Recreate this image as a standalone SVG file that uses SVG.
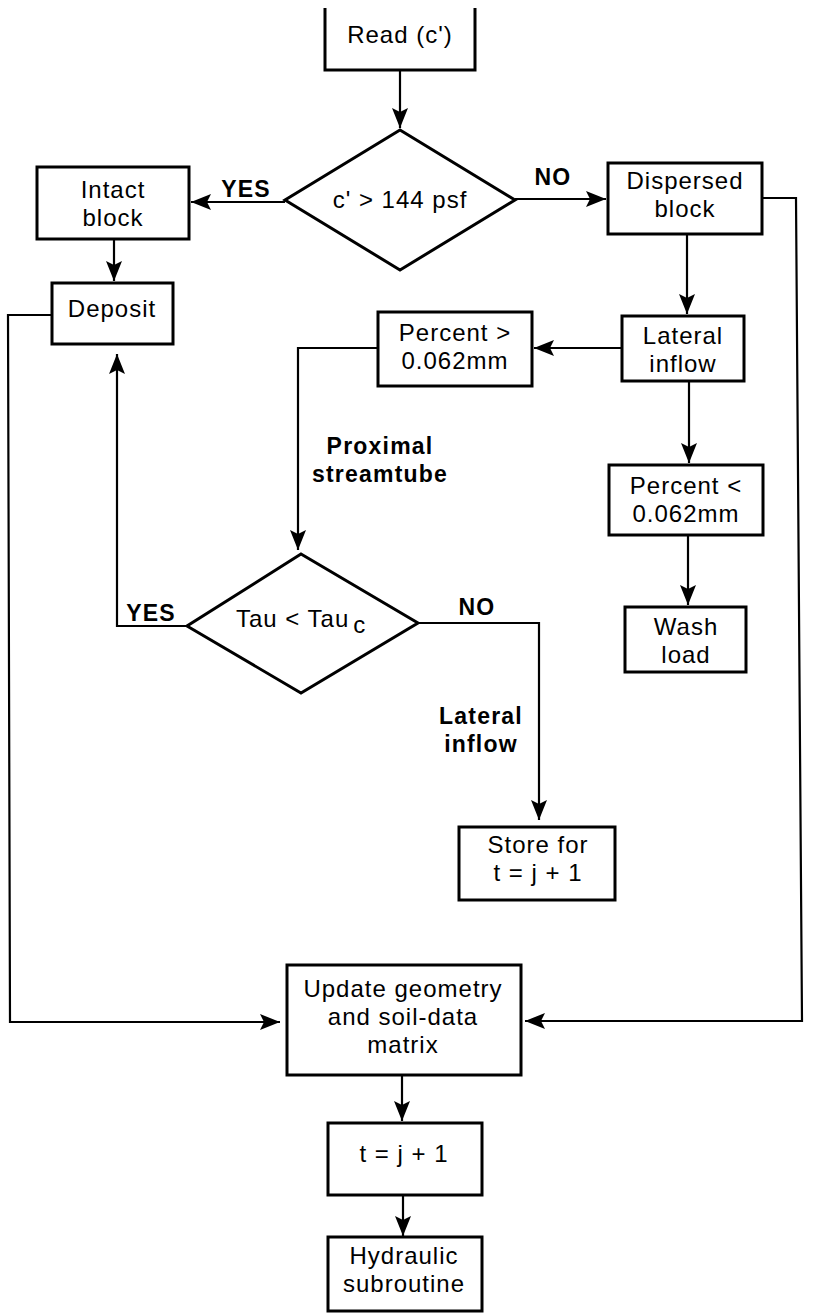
<svg xmlns="http://www.w3.org/2000/svg" width="816" height="1313" viewBox="0 0 816 1313">
<defs>
<style>
.box{fill:#fff;stroke:#000;stroke-width:3}
.ln{fill:none;stroke:#000;stroke-width:2.2}
.t{font-family:"Liberation Sans",Arial,sans-serif;font-size:24px;letter-spacing:1px;text-anchor:middle;fill:#000}
.b{font-family:"Liberation Sans",Arial,sans-serif;font-size:23px;font-weight:bold;letter-spacing:1.2px;text-anchor:middle;fill:#000}
</style>
<marker id="ah" markerUnits="userSpaceOnUse" markerWidth="22" markerHeight="18" viewBox="-21 -9 22 18" refX="0" refY="0" orient="auto">
<path d="M0,0 L-20,-8 L-16,0 L-20,8 Z" fill="#000"/>
</marker>
</defs>
<rect width="816" height="1313" fill="#fff"/>

<g id="connectors">
<path class="ln" d="M400,70 V128" marker-end="url(#ah)"/>
<path class="ln" d="M285,202 H191" marker-end="url(#ah)"/>
<path class="ln" d="M515,199 H606" marker-end="url(#ah)"/>
<path class="ln" d="M114,239 V281" marker-end="url(#ah)"/>
<path class="ln" d="M687,234 V314" marker-end="url(#ah)"/>
<path class="ln" d="M622,348 H534" marker-end="url(#ah)"/>
<path class="ln" d="M689,381 V463" marker-end="url(#ah)"/>
<path class="ln" d="M688,535 V605" marker-end="url(#ah)"/>
<path class="ln" d="M378,348 H298 V550" marker-end="url(#ah)"/>
<path class="ln" d="M187,626 H117 V354" marker-end="url(#ah)"/>
<path class="ln" d="M418,623 H539 V820" marker-end="url(#ah)"/>
<path class="ln" d="M52,315 H8 L10,1022 H280" marker-end="url(#ah)"/>
<path class="ln" d="M762,198 H796 L802,1021 H525" marker-end="url(#ah)"/>
<path class="ln" d="M402,1075 V1121" marker-end="url(#ah)"/>
<path class="ln" d="M403,1195 V1236" marker-end="url(#ah)"/>
<text class="b" x="246" y="197">YES</text>
<text class="b" x="553" y="185">NO</text>
<text class="b" x="151" y="621">YES</text>
<text class="b" x="477" y="615">NO</text>
<text class="b" x="380" y="454">Proximal</text>
<text class="b" x="380" y="482">streamtube</text>
<text class="b" x="481" y="724">Lateral</text>
<text class="b" x="481" y="752">inflow</text>
</g>

<g id="read">
<path class="box" d="M325,8 V70 H475 V8" fill="none"/>
<text class="t" x="400" y="43">Read (c')</text>
</g>

<g id="decision1">
<polygon class="box" points="400,130 515,200 400,270 285,200"/>
<text class="t" x="400" y="208">c' &gt; 144 psf</text>
</g>

<g id="intact">
<rect class="box" x="37" y="167" width="152" height="72"/>
<text class="t" x="113" y="198">Intact</text>
<text class="t" x="113" y="226">block</text>
</g>

<g id="dispersed">
<rect class="box" x="608" y="163" width="154" height="71"/>
<text class="t" x="685" y="189">Dispersed</text>
<text class="t" x="685" y="217">block</text>
</g>

<g id="deposit">
<rect class="box" x="52" y="283" width="121" height="61"/>
<text class="t" x="112" y="317">Deposit</text>
</g>

<g id="lateral">
<rect class="box" x="622" y="316" width="122" height="65"/>
<text class="t" x="683" y="344">Lateral</text>
<text class="t" x="683" y="372">inflow</text>
</g>

<g id="percentGT">
<rect class="box" x="378" y="312" width="154" height="74"/>
<text class="t" x="455" y="341">Percent &gt;</text>
<text class="t" x="455" y="369">0.062mm</text>
</g>

<g id="percentLT">
<rect class="box" x="609" y="465" width="154" height="70"/>
<text class="t" x="686" y="494">Percent &lt;</text>
<text class="t" x="686" y="522">0.062mm</text>
</g>

<g id="washload">
<rect class="box" x="625" y="607" width="121" height="65"/>
<text class="t" x="686" y="635">Wash</text>
<text class="t" x="686" y="663">load</text>
</g>

<g id="decision2">
<polygon class="box" points="301,554 418,623 301,693 187,626"/>
<text class="t" x="236" y="627" style="text-anchor:start">Tau &lt; Tau<tspan dx="4" dy="6">c</tspan></text>
</g>

<g id="store">
<rect class="box" x="459" y="827" width="156" height="73"/>
<text class="t" x="538" y="853">Store for</text>
<text class="t" x="538" y="881">t = j + 1</text>
</g>

<g id="update">
<rect class="box" x="287" y="965" width="234" height="110"/>
<text class="t" x="403" y="997">Update geometry</text>
<text class="t" x="403" y="1025">and soil-data</text>
<text class="t" x="403" y="1053">matrix</text>
</g>

<g id="increment">
<rect class="box" x="328" y="1123" width="154" height="72"/>
<text class="t" x="404" y="1162">t = j + 1</text>
</g>

<g id="hydraulic">
<rect class="box" x="328" y="1237" width="154" height="74"/>
<text class="t" x="404" y="1264">Hydraulic</text>
<text class="t" x="404" y="1292">subroutine</text>
</g>
</svg>
